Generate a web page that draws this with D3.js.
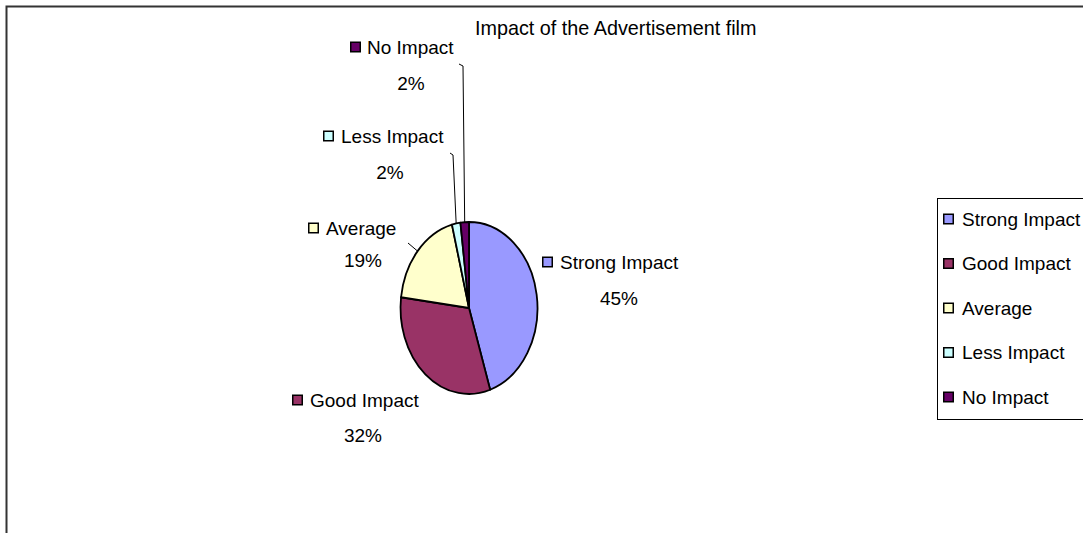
<!DOCTYPE html>
<html>
<head>
<meta charset="utf-8">
<script src="https://cdn.jsdelivr.net/npm/d3@7"></script>
<style>
html,body{margin:0;padding:0;background:#fff;}
text{font-family:"Liberation Sans",Arial,sans-serif;fill:#000;}
</style>
</head>
<body>
<svg id="chart" width="1083" height="533"></svg>
<script>
// ---- data ----
const categories = ["Strong Impact", "Good Impact", "Average", "Less Impact", "No Impact"];
const values = [45, 32, 19, 2, 2];
const percentLabels = ["45%", "32%", "19%", "2%", "2%"];
const title = "Impact of the Advertisement film";

// ---- styles / layout ----
const colors = ["#9999FF", "#993366", "#FFFFCC", "#CCFFFF", "#660066"];
const W = 1083, H = 533;
const cx = 469, cy = 308, rx = 68.5, ry = 86;
const fontSize = 19;
// manually placed data labels (square x, text x, text y, percent center x, percent y)
const labelLayout = [
  {sq: 542, tx: 560, y: 262, px: 619, py: 298},
  {sq: 292, tx: 310, y: 400, px: 363, py: 435},
  {sq: 308, tx: 326, y: 228, px: 363, py: 260},
  {sq: 323, tx: 341, y: 136, px: 390, py: 172},
  {sq: 350, tx: 367, y: 47,  px: 411, py: 83}
];
const leaderStart = [null, null, [[408,243]], [[450,153],[453,155]], [[459,64],[463,66]]];

const svg = d3.select("#chart");
svg.append("rect").attr("width", W).attr("height", H).attr("fill", "#fff");

// outer border (top & left visible)
svg.append("path").attr("d", `M6.5,${H} V6.5 H${W}`)
  .attr("fill", "none").attr("stroke", "#333").attr("stroke-width", 2);

// title
svg.append("text").attr("x", 475).attr("y", 28).attr("dy", "0.35em")
  .attr("font-size", 19.8).text(title);

// pie
const pie = d3.pie().sort(null).value(d => d.v);
const arcs = pie(categories.map((c, i) => ({c, v: values[i], i})));
const arc = d3.arc().innerRadius(0).outerRadius(1);
const g = svg.append("g").attr("transform", `translate(${cx},${cy}) scale(${rx},${ry})`);
g.selectAll("path").data(arcs).join("path")
  .attr("d", arc)
  .attr("fill", d => colors[d.data.i])
  .attr("stroke", "#000").attr("stroke-width", 1.8)
  .attr("vector-effect", "non-scaling-stroke")
  .attr("stroke-linejoin", "round");

// leader lines
arcs.forEach((a, i) => {
  if (!leaderStart[i]) return;
  const mid = (a.startAngle + a.endAngle) / 2;
  const end = [cx + rx * Math.sin(mid), cy - ry * Math.cos(mid)];
  const pts = leaderStart[i].concat([end]);
  svg.append("path").attr("d", d3.line()(pts))
    .attr("fill", "none").attr("stroke", "#000").attr("stroke-width", 1);
});

// data labels
arcs.forEach((a, i) => {
  const L = labelLayout[i];
  svg.append("rect").attr("x", L.sq + 0.75).attr("y", L.y - 4.75).attr("width", 9.5).attr("height", 9.5)
    .attr("fill", colors[i]).attr("stroke", "#000").attr("stroke-width", 1.5);
  svg.append("text").attr("x", L.tx).attr("y", L.y).attr("dy", "0.35em")
    .attr("font-size", fontSize).text(categories[i]);
  svg.append("text").attr("x", L.px).attr("y", L.py).attr("dy", "0.35em")
    .attr("text-anchor", "middle").attr("font-size", fontSize).text(percentLabels[i]);
});

// legend
const lgX = 937.5, lgTop = 198.5, lgBottom = 419.5;
svg.append("rect").attr("x", lgX).attr("y", lgTop).attr("width", W - lgX + 10).attr("height", lgBottom - lgTop)
  .attr("fill", "#fff").attr("stroke", "#000").attr("stroke-width", 1);
const ly = d3.scalePoint().domain(categories).range([219, 397]);
categories.forEach((c, i) => {
  const y = ly(c);
  svg.append("rect").attr("x", 943.75).attr("y", y - 4.75).attr("width", 9.5).attr("height", 9.5)
    .attr("fill", colors[i]).attr("stroke", "#000").attr("stroke-width", 1.5);
  svg.append("text").attr("x", 962).attr("y", y).attr("dy", "0.35em")
    .attr("font-size", fontSize).text(c);
});
</script>
</body>
</html>
